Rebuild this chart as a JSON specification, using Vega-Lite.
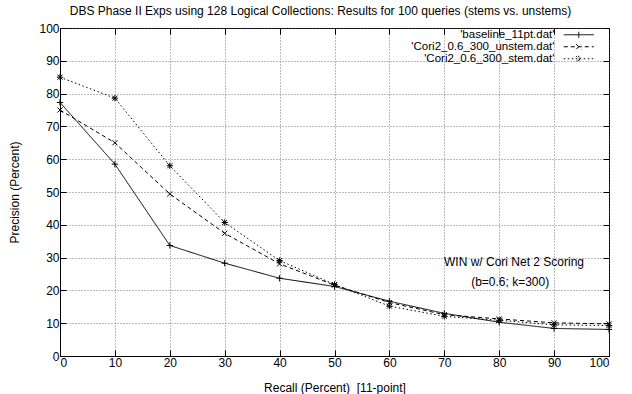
{
  "$schema": "https://vega.github.io/schema/vega-lite/v6.json",
  "width": 549,
  "height": 328,
  "autosize": {"type": "none"},
  "padding": {"left": 60, "top": 28, "right": 23, "bottom": 38},
  "background": "white",
  "title": {"text": "DBS Phase II Exps using 128 Logical Collections: Results for 100 queries (stems vs. unstems)", "fontSize": 12, "font": "Liberation Sans", "fontWeight": "normal", "offset": 4, "anchor": "middle", "dx": -14, "color": "black"},
  "config": {
    "font": "Liberation Sans",
    "view": {"stroke": "black", "strokeWidth": 1},
    "axis": {
      "domainColor": "black",
      "tickColor": "black",
      "labelColor": "black",
      "titleColor": "black",
      "labelFontSize": 12,
      "titleFontSize": 12,
      "titleFontWeight": "normal",
      "gridColor": "#555555",
      "gridDash": [1, 2],
      "gridWidth": 0.8,
      "tickSize": -6,
      "labelPadding": 7
    }
  },
  "data": {
    "values": [
      {"series": "'baseline_11pt.dat'", "recall": 0, "precision": 77.3},
      {"series": "'baseline_11pt.dat'", "recall": 10, "precision": 58.5},
      {"series": "'baseline_11pt.dat'", "recall": 20, "precision": 33.7},
      {"series": "'baseline_11pt.dat'", "recall": 30, "precision": 28.3},
      {"series": "'baseline_11pt.dat'", "recall": 40, "precision": 23.7},
      {"series": "'baseline_11pt.dat'", "recall": 50, "precision": 21.2},
      {"series": "'baseline_11pt.dat'", "recall": 60, "precision": 16.7},
      {"series": "'baseline_11pt.dat'", "recall": 70, "precision": 13.0},
      {"series": "'baseline_11pt.dat'", "recall": 80, "precision": 10.3},
      {"series": "'baseline_11pt.dat'", "recall": 90, "precision": 8.4},
      {"series": "'baseline_11pt.dat'", "recall": 100, "precision": 8.1},
      {"series": "'Cori2_0.6_300_unstem.dat'", "recall": 0, "precision": 75.0},
      {"series": "'Cori2_0.6_300_unstem.dat'", "recall": 10, "precision": 65.0},
      {"series": "'Cori2_0.6_300_unstem.dat'", "recall": 20, "precision": 49.4},
      {"series": "'Cori2_0.6_300_unstem.dat'", "recall": 30, "precision": 37.4},
      {"series": "'Cori2_0.6_300_unstem.dat'", "recall": 40, "precision": 28.1},
      {"series": "'Cori2_0.6_300_unstem.dat'", "recall": 50, "precision": 21.6},
      {"series": "'Cori2_0.6_300_unstem.dat'", "recall": 60, "precision": 16.3},
      {"series": "'Cori2_0.6_300_unstem.dat'", "recall": 70, "precision": 12.6},
      {"series": "'Cori2_0.6_300_unstem.dat'", "recall": 80, "precision": 11.3},
      {"series": "'Cori2_0.6_300_unstem.dat'", "recall": 90, "precision": 10.1},
      {"series": "'Cori2_0.6_300_unstem.dat'", "recall": 100, "precision": 9.8},
      {"series": "'Cori2_0.6_300_stem.dat'", "recall": 0, "precision": 85.0},
      {"series": "'Cori2_0.6_300_stem.dat'", "recall": 10, "precision": 78.6},
      {"series": "'Cori2_0.6_300_stem.dat'", "recall": 20, "precision": 58.0},
      {"series": "'Cori2_0.6_300_stem.dat'", "recall": 30, "precision": 40.7},
      {"series": "'Cori2_0.6_300_stem.dat'", "recall": 40, "precision": 29.1},
      {"series": "'Cori2_0.6_300_stem.dat'", "recall": 50, "precision": 21.8},
      {"series": "'Cori2_0.6_300_stem.dat'", "recall": 60, "precision": 15.2},
      {"series": "'Cori2_0.6_300_stem.dat'", "recall": 70, "precision": 12.1},
      {"series": "'Cori2_0.6_300_stem.dat'", "recall": 80, "precision": 10.9},
      {"series": "'Cori2_0.6_300_stem.dat'", "recall": 90, "precision": 9.5},
      {"series": "'Cori2_0.6_300_stem.dat'", "recall": 100, "precision": 9.3}
    ]
  },
  "layer": [
    {
      "mark": {"type": "line", "color": "black", "strokeWidth": 1},
      "encoding": {
        "x": {"field": "recall", "type": "quantitative", "scale": {"domain": [0, 100], "nice": false}, "axis": {"title": "Recall (Percent) \u00a0[11-point]", "values": [0, 10, 20, 30, 40, 50, 60, 70, 80, 90, 100], "titlePadding": 14}},
        "y": {"field": "precision", "type": "quantitative", "scale": {"domain": [0, 100], "nice": false}, "axis": {"title": "Precision (Percent)", "values": [0, 10, 20, 30, 40, 50, 60, 70, 80, 90, 100], "titlePadding": 17}},
        "strokeDash": {
          "field": "series",
          "type": "nominal",
          "scale": {"domain": ["'baseline_11pt.dat'", "'Cori2_0.6_300_unstem.dat'", "'Cori2_0.6_300_stem.dat'"], "range": [[1, 0], [4, 3], [1.5, 2.5]]},
          "legend": {
            "title": null,
            "orient": "none",
            "legendX": 513,
            "legendY": 1,
            "padding": 0,
            "symbolSize": 64,
            "symbolStrokeWidth": 1,
            "symbolStrokeColor": "black",
            "labelAlign": "right",
            "labelOffset": -30,
            "labelFontSize": 11.5,
            "labelLimit": 300,
            "labelColor": "black",
            "rowPadding": -6,
            "encode": {
              "symbols": {
                "update": {
                  "shape": {"signal": "indexof(datum.value, 'baseline') >= 0 ? 'M-3.75,0L3.75,0M0,-0.75L0,0.75' : indexof(datum.value, 'unstem') >= 0 ? 'M-3.75,0L3.75,0M-0.65,-0.65L0.65,0.65M-0.65,0.65L0.65,-0.65' : 'M-3.75,0L3.75,0M0,-0.75L0,0.75M-0.65,-0.65L0.65,0.65M-0.65,0.65L0.65,-0.65'"},
                  "size": {"value": 64},
                  "fill": {"value": "transparent"},
                  "stroke": {"value": "black"}
                }
              }
            }
          }
        }
      }
    },
    {
      "transform": [{"filter": "indexof(datum.series, 'baseline') >= 0"}],
      "mark": {"type": "point", "shape": "M-1,0L1,0M0,-1L0,1", "filled": false, "stroke": "black", "strokeWidth": 1, "size": 40, "opacity": 1},
      "encoding": {
        "x": {"field": "recall", "type": "quantitative", "axis": {"orient": "top", "labels": false, "grid": false, "domain": false, "title": null, "values": [0, 10, 20, 30, 40, 50, 60, 70, 80, 90, 100]}},
        "y": {"field": "precision", "type": "quantitative", "axis": {"orient": "right", "labels": false, "grid": false, "domain": false, "title": null, "values": [0, 10, 20, 30, 40, 50, 60, 70, 80, 90, 100]}}
      }
    },
    {
      "transform": [{"filter": "indexof(datum.series, 'unstem') >= 0"}],
      "mark": {"type": "point", "shape": "M-0.8,-0.8L0.8,0.8M-0.8,0.8L0.8,-0.8", "filled": false, "stroke": "black", "strokeWidth": 1, "size": 40, "opacity": 1},
      "encoding": {
        "x": {"field": "recall", "type": "quantitative", "axis": null},
        "y": {"field": "precision", "type": "quantitative", "axis": null}
      }
    },
    {
      "transform": [{"filter": "indexof(datum.series, 'unstem') < 0 && indexof(datum.series, 'stem') >= 0"}],
      "mark": {"type": "point", "shape": "M-1,0L1,0M0,-1L0,1M-0.8,-0.8L0.8,0.8M-0.8,0.8L0.8,-0.8", "filled": false, "stroke": "black", "strokeWidth": 1, "size": 40, "opacity": 1},
      "encoding": {
        "x": {"field": "recall", "type": "quantitative", "axis": null},
        "y": {"field": "precision", "type": "quantitative", "axis": null}
      }
    },
    {
      "data": {"values": [{}]},
      "mark": {"type": "text", "fontSize": 12, "color": "black", "align": "center", "baseline": "middle"},
      "encoding": {
        "x": {"datum": 82.7, "type": "quantitative", "axis": null},
        "y": {"datum": 28.8, "type": "quantitative", "axis": null},
        "text": {"value": "WIN w/ Cori Net 2 Scoring"}
      }
    },
    {
      "data": {"values": [{}]},
      "mark": {"type": "text", "fontSize": 12, "color": "black", "align": "center", "baseline": "middle"},
      "encoding": {
        "x": {"datum": 82.0, "type": "quantitative", "axis": null},
        "y": {"datum": 22.7, "type": "quantitative", "axis": null},
        "text": {"value": "(b=0.6; k=300)"}
      }
    }
  ],
  "resolve": {"axis": {"x": "independent", "y": "independent"}}
}
